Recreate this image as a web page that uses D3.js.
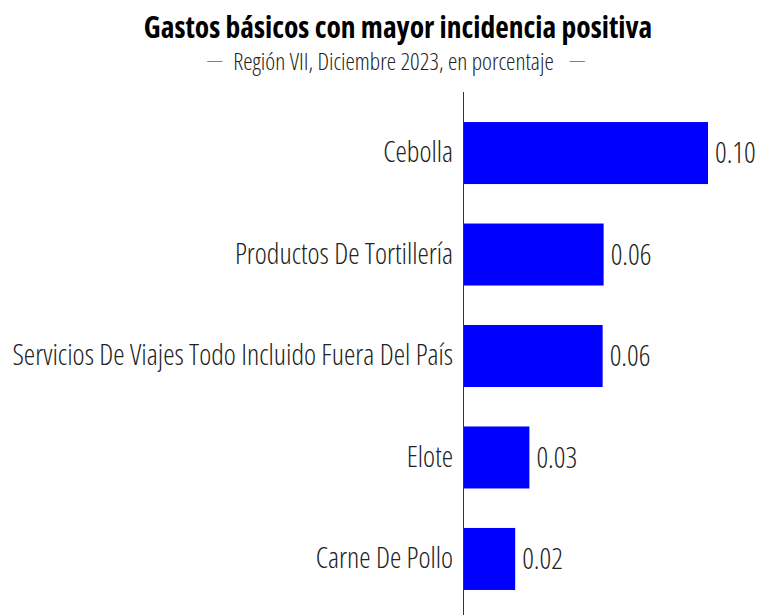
<!DOCTYPE html>
<html>
<head>
<meta charset="utf-8">
<script src="https://cdn.jsdelivr.net/npm/d3@7"></script>
<style>
  body { margin: 0; background: #fff; }
  svg text { font-family: "Open Sans", sans-serif; font-stretch: condensed; }
</style>
</head>
<body>
<svg id="chart"></svg>
<script>
// Data
const categories = ['Cebolla', 'Productos De Tortillería', 'Servicios De Viajes Todo Incluido Fuera Del País', 'Elote', 'Carne De Pollo'];
const values = [0.100, 0.0574, 0.0570, 0.0271, 0.0213];

const width = 767, height = 615;
const margin = { top: 92, right: 60, bottom: 0, left: 463 };

const svg = d3.select('#chart')
    .attr('width', width)
    .attr('height', height);

// Title
svg.append('text')
    .attr('x', 398)
    .attr('y', 38)
    .attr('text-anchor', 'middle')
    .style('font-size', '29.5px')
    .style('font-weight', 700)
    .text('Gastos básicos con mayor incidencia positiva');

// Subtitle with dashes on each side
const sub = svg.append('text')
    .attr('x', 393.5)
    .attr('y', 70)
    .attr('text-anchor', 'middle')
    .style('font-size', '23.6px')
    .style('font-weight', 300)
    .style('fill', '#222')
    .text('Región VII, Diciembre 2023, en porcentaje');

const subLen = sub.node().getComputedTextLength();
[[393.5 - subLen / 2 - 10, 'end'], [393.5 + subLen / 2 + 15, 'start']].forEach(([px, anchor]) => {
    svg.append('text')
        .attr('x', px)
        .attr('y', 66)
        .attr('text-anchor', anchor)
        .style('font-size', '17px')
        .style('font-weight', 300)
        .style('fill', '#222')
        .text('—');
});

const chart = svg.append('g')
    .attr('transform', `translate(${margin.left},${margin.top})`);

const innerH = height - margin.top - margin.bottom;

const x = d3.scaleLinear()
    .domain([0, 0.1])
    .range([0, 245]);

const y = d3.scaleBand()
    .domain(categories)
    .range([0, 528])
    .paddingInner(0.389)
    .paddingOuter(0.296);

const data = categories.map((c, i) => ({ cat: c, val: values[i] }));

chart.selectAll('rect')
    .data(data)
  .join('rect')
    .attr('x', 0)
    .attr('y', d => y(d.cat))
    .attr('height', y.bandwidth())
    .attr('width', d => x(d.val))
    .attr('fill', '#0000ff');

chart.selectAll('.val')
    .data(data)
  .join('text')
    .attr('class', 'val')
    .attr('x', d => x(d.val) + 7)
    .attr('y', d => y(d.cat) + y.bandwidth() / 2)
    .attr('dy', '0.35em')
    .style('font-size', '28.7px')
    .style('font-weight', 300)
    .style('fill', '#222')
    .text(d => d3.format('.2f')(d.val));

const yAxis = d3.axisLeft(y).tickSize(0).tickPadding(10);

chart.append('g')
    .call(yAxis)
    .call(g => g.select('.domain').attr('d', `M0.5,0V${innerH}`).attr('stroke', '#333'))
    .call(g => g.selectAll('text')
        .style('font-size', '28.7px')
        .style('font-weight', 300)
        .style('fill', '#222')
        .style('font-family', '"Open Sans", sans-serif'));
</script>
</body>
</html>
